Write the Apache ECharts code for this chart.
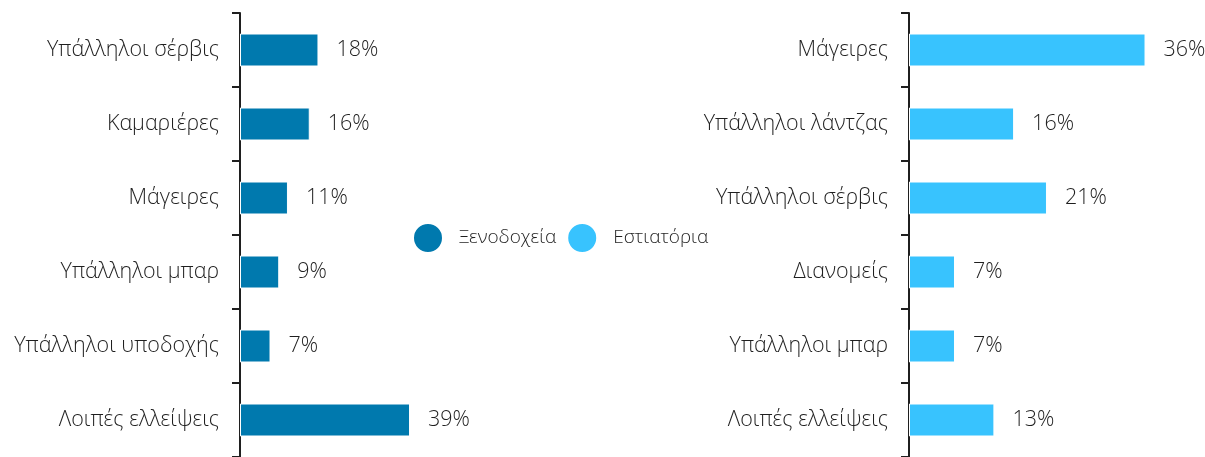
<!DOCTYPE html>
<html>
<head>
<meta charset="utf-8">
<script src="https://cdn.jsdelivr.net/npm/echarts@6/dist/echarts.min.js"></script>
<style>
  html, body { margin: 0; padding: 0; background: #fff; }
  #chart { width: 1205px; height: 457px; }
</style>
</head>
<body>
<div id="chart"></div>
<script>
// data
const seriesNames = ["Ξενοδοχεία", "Εστιατόρια"];
const hotelCategories = ["Υπάλληλοι σέρβις", "Καμαριέρες", "Μάγειρες", "Υπάλληλοι μπαρ", "Υπάλληλοι υποδοχής", "Λοιπές ελλείψεις"];
const hotelValues = [18, 16, 11, 9, 7, 39];
const restaurantCategories = ["Μάγειρες", "Υπάλληλοι λάντζας", "Υπάλληλοι σέρβις", "Διανομείς", "Υπάλληλοι μπαρ", "Λοιπές ελλείψεις"];
const restaurantValues = [36, 16, 21, 7, 7, 13];

const textColor = "#1f1f1f";
const fontFamily = "'Open Sans', 'Noto Sans', sans-serif";

const chart = echarts.init(document.getElementById("chart"));

function yAxisCfg(idx, cats) {
  return {
    type: "category",
    gridIndex: idx,
    data: cats,
    inverse: true,
    axisLine: { lineStyle: { color: textColor, width: 2 } },
    axisTick: { show: true, length: 8, lineStyle: { color: textColor, width: 2 } },
    axisLabel: { color: textColor, fontSize: 21.5, fontFamily: fontFamily, fontWeight: 300, margin: 21 }
  };
}

function seriesCfg(idx, name, values, color) {
  return {
    name: name,
    type: "bar",
    xAxisIndex: idx,
    yAxisIndex: idx,
    data: values,
    barWidth: 33,
    itemStyle: { color: color, borderColor: "#fff", borderWidth: 1 },
    label: {
      show: true,
      position: "right",
      distance: 18,
      formatter: "{c}%",
      color: textColor,
      fontSize: 21.5,
      fontFamily: fontFamily,
      fontWeight: 300
    }
  };
}

chart.setOption({
  animation: false,
  legend: {
    data: seriesNames,
    left: 407,
    top: 217,
    icon: "circle",
    itemWidth: 30,
    itemHeight: 30,
    itemGap: 10,
    textStyle: { color: textColor, fontSize: 19, fontFamily: fontFamily, fontWeight: 300, padding: [0, 0, 0, 11] }
  },
  grid: [
    { left: 240, top: 13, width: 174.4, bottom: 0 },
    { left: 909, top: 13, width: 262.8, bottom: 0 }
  ],
  xAxis: [
    { type: "value", gridIndex: 0, min: 0, max: 40, show: false },
    { type: "value", gridIndex: 1, min: 0, max: 40, show: false }
  ],
  yAxis: [
    yAxisCfg(0, hotelCategories),
    yAxisCfg(1, restaurantCategories)
  ],
  series: [
    seriesCfg(0, seriesNames[0], hotelValues, "#0079AE"),
    seriesCfg(1, seriesNames[1], restaurantValues, "#38C3FE")
  ]
});
</script>
</body>
</html>
